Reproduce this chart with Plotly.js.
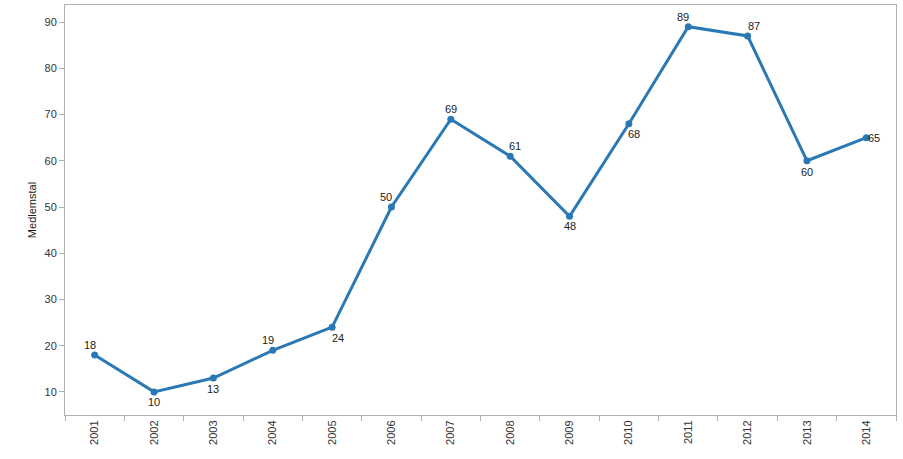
<!DOCTYPE html>
<html><head><meta charset="utf-8">
<script src="https://cdn.plot.ly/plotly-3.0.1.min.js"></script>
<style>html,body{margin:0;padding:0;background:#fff}#chart{width:903px;height:459px}</style>
</head><body><div id="chart"></div>
<script>
var years = ['2001','2002','2003','2004','2005','2006','2007','2008','2009','2010','2011','2012','2013','2014'];
var members = [18, 10, 13, 19, 24, 50, 69, 61, 48, 68, 89, 87, 60, 65];
// label offsets in pixels (style only)
var labelDx = [-5, 0, 0, -5, 6, -5, 0, 5, 0, 5, -5, 6, 0, 8];
var labelDy = [10, -10, -11, 10, -11, 10, 10, 10, -10, -10, 10, 10, -11, 0];

var FONT = 'Liberation Sans, Arial, sans-serif';
var trace = {
  x: years, y: members, type: 'scatter', mode: 'lines+markers',
  line: {color: '#2a78b4', width: 3},
  marker: {color: '#2a78b4', size: 7},
  cliponaxis: false, hoverinfo: 'x+y'
};
var annotations = years.map(function (yr, i) {
  return {x: i, y: members[i], xref: 'x', yref: 'y', text: String(members[i]), showarrow: false,
    xshift: labelDx[i], yshift: labelDy[i], font: {family: FONT, size: 11, color: '#222'}};
});
var axisCommon = {showline: true, mirror: true, linecolor: '#b0b0b0', linewidth: 1, showgrid: false, zeroline: false,
  ticks: 'outside', ticklen: 5, tickcolor: '#b0b0b0',
  tickfont: {family: FONT, size: 11, color: '#333'}};
var layout = {
  width: 903, height: 459,
  margin: {l: 65, r: 7, t: 5, b: 44},
  paper_bgcolor: '#fff', plot_bgcolor: '#fff',
  showlegend: false,
  annotations: annotations,
  xaxis: Object.assign({}, axisCommon, {type: 'category', range: [-0.5, 13.5], tickangle: -90, tickson: 'boundaries'}),
  yaxis: Object.assign({}, axisCommon, {range: [5, 93.7], tickvals: [10,20,30,40,50,60,70,80,90],
    title: {text: 'Medlemstal', font: {family: FONT, size: 11, color: '#222'}, standoff: 5}})
};
Plotly.newPlot('chart', [trace], layout, {displayModeBar: false, staticPlot: true});
</script></body></html>
